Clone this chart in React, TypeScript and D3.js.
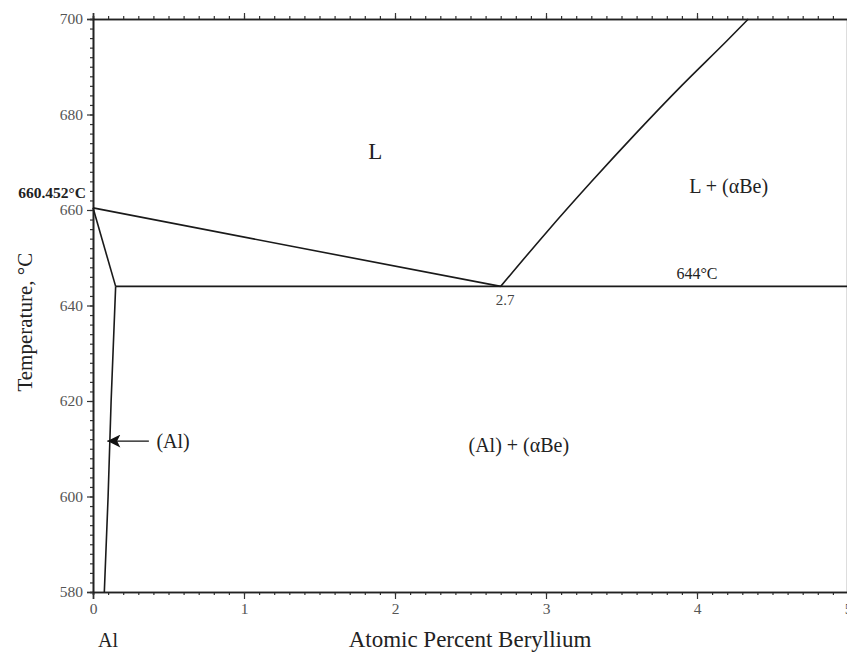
import * as d3 from "d3";
import React, { useRef, useEffect } from 'react'

// tick values
const tempMajor = [580, 600, 620, 640, 660, 680, 700]
const tempMinor = d3.range(580, 701, 2)
const compMajor = [0, 1, 2, 3, 4, 5]
const compMinor = d3.range(0, 50.5, 1).map(v => v / 10)

// phase boundaries, [at.% Be, °C]
const liquidusAl: [number, number][] = [[0, 660.452], [1.35, 652.2], [2.7, 644]]
const liquidusBe: [number, number][] = [[2.7, 644], [3.0, 655.2], [3.3, 665.9], [3.6, 676.2], [3.9, 686.1], [4.2, 695.5], [4.34, 700]]
const solidus: [number, number][] = [[0, 660.452], [0.15, 644]]
const solvus: [number, number][] = [[0.15, 644], [0.12, 620], [0.1, 600], [0.075, 580]]
const eutectic: [number, number][] = [[0.15, 644], [5, 644]]

const W = 847, H = 656

const App: React.FC = () => {
  const gLeft = useRef(null)
  const gLeftMinor = useRef(null)
  const gBottom = useRef(null)
  const gBottomMinor = useRef(null)
  const gTop = useRef(null)
  const gTopMinor = useRef(null)

  const x = d3.scaleLinear([0, 5], [93, 848])
  const y = d3.scaleLinear([580, 700], [592, 19])
  const line = d3.line<[number, number]>().x(d => x(d[0])).y(d => y(d[1]))
  const curve = d3.line<[number, number]>().x(d => x(d[0])).y(d => y(d[1])).curve(d3.curveMonotoneY)

  useEffect(() => {
    const style = (g: any) => {
      g.selectAll('.domain').attr('stroke', '#222').attr('stroke-width', 1.6)
      g.selectAll('.tick line').attr('stroke', '#333').attr('stroke-width', 1.2)
      g.selectAll('text').attr('font-family', '"Liberation Serif", serif').attr('font-size', 15.5).attr('fill', '#555')
    }
    d3.select(gLeftMinor.current as any).call(d3.axisLeft(y).tickValues(tempMinor).tickSize(3).tickFormat(() => '')).call(style)
    d3.select(gLeft.current as any).call(d3.axisLeft(y).tickValues(tempMajor).tickSize(6).tickPadding(4).tickFormat(d3.format('d'))).call(style)
    d3.select(gBottomMinor.current as any).call(d3.axisBottom(x).tickValues(compMinor).tickSize(3).tickFormat(() => '')).call(style)
    d3.select(gBottom.current as any).call(d3.axisBottom(x).tickValues(compMajor).tickSize(7).tickPadding(4).tickFormat(d3.format('d'))).call(style)
    d3.select(gTopMinor.current as any).call(d3.axisTop(x).tickValues(compMinor).tickSize(3).tickFormat(() => '')).call(style)
    d3.select(gTop.current as any).call(d3.axisTop(x).tickValues(compMajor).tickSize(6).tickFormat(() => '')).call(style)
  }, [])

  const font = '"Liberation Serif", "Times New Roman", serif'
  const arrowY = y(611.6)

  return (
    <svg width={W} height={H} style={{ position: 'absolute', left: 0, top: 0, background: '#fff' }} fontFamily={font}>
      <defs>
        <marker id="arrowhead" viewBox="0 0 10 10" refX="10" refY="5" markerWidth="17" markerHeight="13" orient="auto-start-reverse" markerUnits="userSpaceOnUse">
          <path d="M0,0 L10,5 L0,10 L2.5,5 z" fill="#111" />
        </marker>
      </defs>
      <line x1={x(5) - 1} x2={x(5) - 1} y1={y(700)} y2={y(580)} stroke="#bbb" strokeWidth={1} />
      <g ref={gTopMinor} transform={`translate(0, ${y(700)})`} />
      <g ref={gTop} transform={`translate(0, ${y(700)})`} />
      <g ref={gBottomMinor} transform={`translate(0, ${y(580)})`} />
      <g ref={gBottom} transform={`translate(0, ${y(580)})`} />
      <g ref={gLeftMinor} transform={`translate(${x(0)}, 0)`} />
      <g ref={gLeft} transform={`translate(${x(0)}, 0)`} />

      <g fill="none" stroke="#1a1a1a" strokeWidth={1.6}>
        <path d={line(liquidusAl) ?? ''} />
        <path d={curve(liquidusBe) ?? ''} />
        <path d={line(solidus) ?? ''} />
        <path d={line(solvus) ?? ''} />
        <path d={line(eutectic) ?? ''} />
      </g>

      <line x1={x(0.37)} x2={x(0.095)} y1={arrowY} y2={arrowY} stroke="#111" strokeWidth={1.4} markerEnd="url(#arrowhead)" />
      <text x={x(0.42)} y={arrowY + 7} fontSize={20} fill="#222">(Al)</text>

      <text x={x(1.87)} y={y(670.6)} fontSize={23} fill="#222" textAnchor="middle">L</text>
      <text x={x(4.21)} y={y(663.5)} fontSize={20} fill="#222" textAnchor="middle">L + (αBe)</text>
      <text x={x(2.82)} y={y(609.4)} fontSize={20} fill="#222" textAnchor="middle">(Al) + (αBe)</text>
      <text x={x(4.0)} y={y(645.5)} fontSize={16} fill="#222" textAnchor="middle">644°C</text>
      <text x={x(2.73)} y={y(640.1)} fontSize={15} fill="#444" textAnchor="middle">2.7</text>
      <text x={86} y={198} fontSize={15.5} fontWeight="bold" fill="#222" textAnchor="end">660.452°C</text>

      <text x={x(0.1)} y={647} fontSize={20} fill="#222" textAnchor="middle">Al</text>
      <text x={470} y={647} fontSize={23} fill="#222" textAnchor="middle">Atomic Percent Beryllium</text>
      <text transform={`translate(32, ${y(636.5)}) rotate(-90)`} fontSize={21} fill="#222" textAnchor="middle">Temperature, °C</text>
    </svg>
  )
}

export default App
